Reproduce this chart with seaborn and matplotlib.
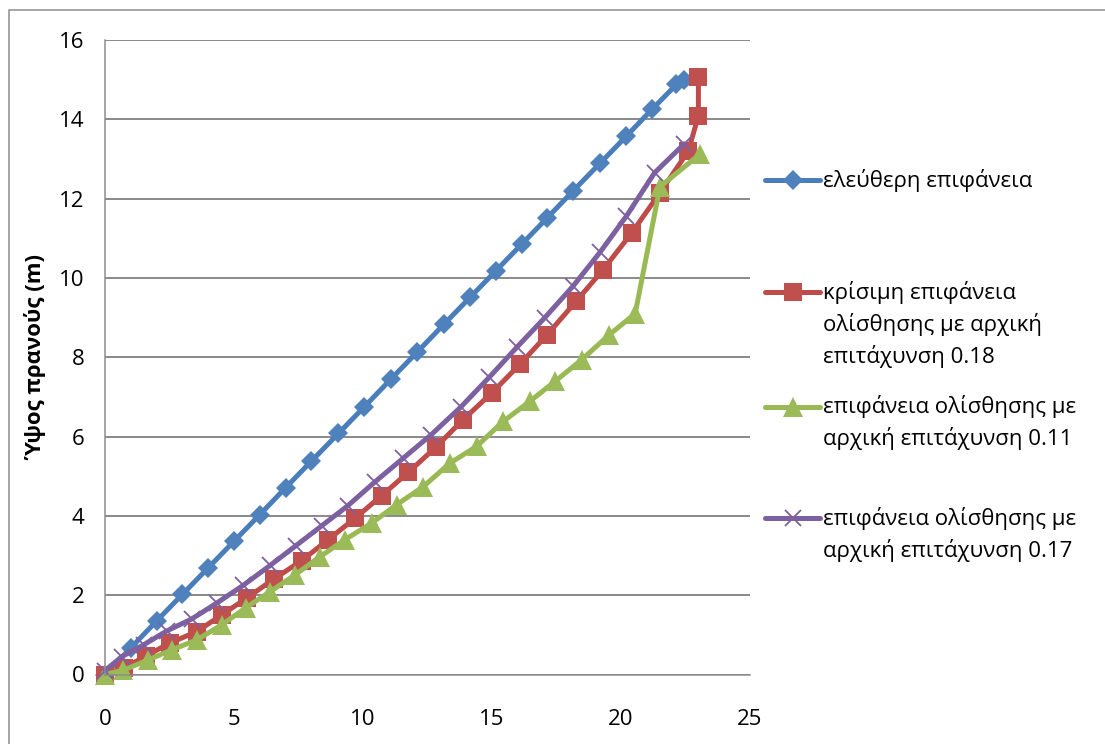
import matplotlib
matplotlib.use("Agg")
import matplotlib.pyplot as plt
import seaborn as sns
import pandas as pd
from matplotlib.lines import Line2D
from matplotlib.patches import Rectangle

# ---- data ----
free_x = [0, 1.0, 2.0, 3.0, 4.0, 5.0, 6.0, 7.0, 8.0, 9.05, 10.05, 11.1, 12.1, 13.15,
          14.15, 15.15, 16.15, 17.15, 18.15, 19.2, 20.2, 21.2, 22.15, 22.45]
free_y = [0, 0.67, 1.35, 2.02, 2.69, 3.36, 4.03, 4.71, 5.38, 6.08, 6.75, 7.46, 8.13, 8.84,
          9.51, 10.18, 10.85, 11.52, 12.2, 12.9, 13.57, 14.25, 14.88, 15.0]

crit_x = [0, 0.75, 1.6, 2.5, 3.55, 4.52, 5.52, 6.55, 7.62, 8.65, 9.69, 10.72, 11.76, 12.82,
          13.87, 14.99, 16.08, 17.14, 18.26, 19.31, 20.42, 21.51, 22.61, 23.0, 23.0]
crit_y = [0, 0.17, 0.47, 0.79, 1.08, 1.5, 1.94, 2.41, 2.87, 3.4, 3.94, 4.51, 5.1, 5.73,
          6.42, 7.1, 7.82, 8.57, 9.41, 10.21, 11.14, 12.15, 13.2, 14.09, 15.06]

a011_x = [0, 0.71, 1.68, 2.58, 3.55, 4.52, 5.45, 6.4, 7.36, 8.33, 9.3, 10.34, 11.3, 12.34,
          13.37, 14.4, 15.43, 16.47, 17.44, 18.48, 19.55, 20.55, 21.51, 23.06]
a011_y = [0, 0.11, 0.37, 0.62, 0.87, 1.25, 1.68, 2.09, 2.51, 2.97, 3.4, 3.82, 4.28, 4.74,
          5.33, 5.75, 6.38, 6.89, 7.39, 7.94, 8.57, 9.1, 12.3, 13.12]

a017_x = [0, 0.65, 1.5, 2.4, 3.36, 4.33, 5.36, 6.4, 7.4, 8.4, 9.4, 10.45, 11.55, 12.65,
          13.8, 14.9, 15.96, 17.05, 18.15, 19.19, 20.2, 21.3, 22.45]
a017_y = [0.1, 0.45, 0.75, 1.1, 1.4, 1.8, 2.25, 2.75, 3.25, 3.75, 4.25, 4.85, 5.45, 6.05,
          6.75, 7.5, 8.25, 9.0, 9.8, 10.65, 11.55, 12.65, 13.38]

labels = ["ελεύθερη επιφάνεια",
          "κρίσιμη επιφάνεια\nολίσθησης με αρχική\nεπιτάχυνση 0.18",
          "επιφάνεια ολίσθησης με\nαρχική επιτάχυνση 0.11",
          "επιφάνεια ολίσθησης με\nαρχική επιτάχυνση 0.17"]
ylabel = "Ύψος πρανούς (m)"
xticks = [0, 5, 10, 15, 20, 25]
yticks = [0, 2, 4, 6, 8, 10, 12, 14, 16]

# ---- style ----
sns.set_theme(style="white")
plt.rcParams["font.family"] = ["Open Sans", "DejaVu Sans"]

W, H = 1105, 744
PX = 0.72  # points per pixel at dpi 100
fig = plt.figure(figsize=(W / 100, H / 100), dpi=100)
fig.patch.set_facecolor("white")
ax = fig.add_axes([105 / W, 1 - 674.5 / H, (750 - 105) / W, (674.5 - 40) / H])
ax.set_facecolor("white")

styles = [
    dict(color="#4A7EBB", marker="D", ms=10, mfc="#4F81BD", mec="#4F81BD", mew=0),
    dict(color="#BE4B48", marker="s", ms=13, mfc="#C0504D", mec="#C0504D", mew=0),
    dict(color="#98B954", marker="^", ms=14, mfc="#9BBB59", mec="#9BBB59", mew=0),
    dict(color="#7D60A0", marker="x", ms=12, mfc="#7D60A0", mec="#7D60A0", mew=1.3),
]
series = [(free_x, free_y), (crit_x, crit_y), (a011_x, a011_y), (a017_x, a017_y)]

for (xs, ys), st, lab in zip(series, styles, labels):
    df = pd.DataFrame({"x": xs, "y": ys})
    sns.lineplot(data=df, x="x", y="y", sort=False, estimator=None, errorbar=None,
                 ax=ax, color=st["color"],
                 linewidth=5 * PX, marker=st["marker"], markersize=st["ms"],
                 markerfacecolor=st["mfc"], markeredgecolor=st["mec"],
                 markeredgewidth=st["mew"], clip_on=False, label=lab, legend=False)

ax.set_xlim(0, 25)
ax.set_ylim(0, 16)
ax.set_xticks(xticks)
ax.set_yticks(yticks)
ax.set_xticklabels([str(v) for v in xticks])
ax.set_yticklabels([str(v) for v in yticks])

grid_c = "#8C8C8C"
ax.yaxis.grid(True, color=grid_c, linewidth=2 * PX)
ax.xaxis.grid(False)
ax.set_axisbelow(True)
for s in ["top", "right"]:
    ax.spines[s].set_visible(False)
for s in ["left", "bottom"]:
    ax.spines[s].set_color(grid_c)
    ax.spines[s].set_linewidth(1.5 * PX)

ax.tick_params(axis="both", which="both", direction="out", length=8 * PX,
               width=1.2 * PX, color=grid_c, labelsize=16, labelcolor="black")
ax.tick_params(axis="x", pad=19)
ax.tick_params(axis="y", pad=9)
ax.set_xlabel("")
ax.set_ylabel(ylabel, fontsize=16, fontweight="bold", color="black")
ax.yaxis.set_label_coords(-0.107, 0.5)
ax.yaxis.label.set_verticalalignment("center")

# ---- legend (Excel-like, handle aligned with first line) ----
entry_y = [180, 292, 407, 518]
line_gap = 32
for lab, st, ey in zip(labels, styles, entry_y):
    yf = 1 - ey / H
    fig.add_artist(Line2D([765 / W, 820 / W], [yf, yf], transform=fig.transFigure,
                          color=st["color"], linewidth=5 * PX))
    fig.add_artist(Line2D([792.5 / W], [yf], transform=fig.transFigure,
                          color=st["color"], marker=st["marker"], markersize=st["ms"],
                          markerfacecolor=st["mfc"], markeredgecolor=st["mec"],
                          markeredgewidth=st["mew"], linestyle="none"))
    for i, line in enumerate(lab.split("\n")):
        fig.text(823 / W, 1 - (ey + i * line_gap) / H, line, fontsize=16,
                 ha="left", va="center", color="black")

# outer chart border
fig.add_artist(Rectangle((9 / W, -0.1), 2, 1 - 10 / H + 0.1, transform=fig.transFigure,
                         fill=False, edgecolor="#8C8C8C", linewidth=1.5 * PX))

fig.savefig("out.png", dpi=100)
